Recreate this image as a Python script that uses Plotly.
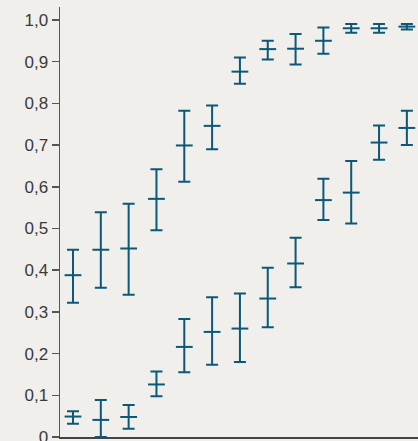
import plotly.graph_objects as go

categories = list(range(13))

upper_mid = [0.388, 0.449, 0.452, 0.571, 0.699, 0.746, 0.876, 0.930, 0.931, 0.950, 0.980, 0.980, 0.984]
upper_hi = [0.449, 0.539, 0.559, 0.642, 0.782, 0.795, 0.910, 0.950, 0.966, 0.982, 0.990, 0.990, 0.990]
upper_lo = [0.322, 0.358, 0.341, 0.496, 0.612, 0.690, 0.847, 0.905, 0.893, 0.919, 0.969, 0.969, 0.977]

lower_mid = [0.049, 0.041, 0.048, 0.126, 0.216, 0.252, 0.260, 0.332, 0.416, 0.568, 0.586, 0.706, 0.741]
lower_hi = [0.062, 0.089, 0.077, 0.157, 0.283, 0.335, 0.344, 0.406, 0.478, 0.619, 0.662, 0.747, 0.782]
lower_lo = [0.032, 0.000, 0.020, 0.098, 0.155, 0.173, 0.180, 0.263, 0.359, 0.520, 0.512, 0.665, 0.700]

y_ticks = [0, 0.1, 0.2, 0.3, 0.4, 0.5, 0.6, 0.7, 0.8, 0.9, 1.0]
y_tick_labels = ["0", "0,1", "0,2", "0,3", "0,4", "0,5", "0,6", "0,7", "0,8", "0,9", "1,0"]

COLOR = "#0b5877"
BG = "#f0efec"

fig = go.Figure()
for mid, hi, lo in [(upper_mid, upper_hi, upper_lo), (lower_mid, lower_hi, lower_lo)]:
    fig.add_trace(go.Scatter(
        x=categories, y=mid, mode="markers",
        marker=dict(symbol="line-ew", size=12, line=dict(width=2, color=COLOR), color=COLOR),
        error_y=dict(type="data", symmetric=False,
                     array=[h - m for h, m in zip(hi, mid)],
                     arrayminus=[m - l for m, l in zip(mid, lo)],
                     color=COLOR, thickness=2, width=6),
        showlegend=False, cliponaxis=False, hoverinfo="skip",
    ))

fig.update_layout(
    width=418, height=470,
    margin=dict(l=60, r=0, t=7, b=33, autoexpand=False),
    paper_bgcolor=BG, plot_bgcolor=BG,
    font=dict(family="Liberation Sans, Arial, sans-serif", size=17, color="#3a3a3a"),
    xaxis=dict(range=[-0.467, 12.40], showgrid=False, zeroline=False, showticklabels=False,
               showline=True, linecolor="#444444", linewidth=2, ticks="", automargin=False),
    yaxis=dict(range=[0, 1.031], showgrid=False, zeroline=False, automargin=False,
               tickvals=y_ticks, ticktext=y_tick_labels,
               showline=True, linecolor="#555555", linewidth=1.5,
               ticks="outside", ticklen=7, tickwidth=1.5, tickcolor="#555555"),
)

fig.write_html("out.html", config={"displayModeBar": False, "staticPlot": True},
               post_script="document.body.style.margin='0';document.body.style.overflow='hidden';document.body.style.background='" + BG + "';")
